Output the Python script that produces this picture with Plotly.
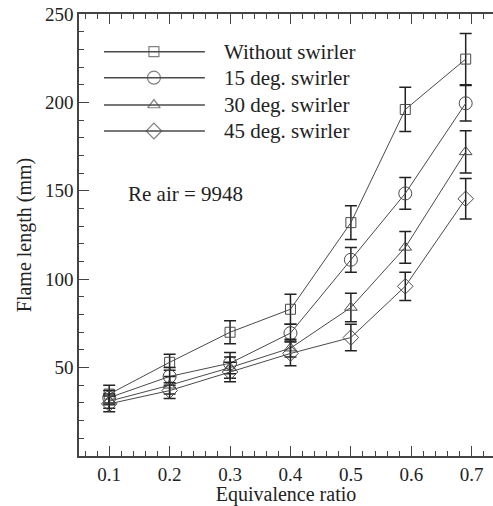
import plotly.graph_objects as go

# ---- data ----
equivalence_ratio = [0.1, 0.2, 0.3, 0.4, 0.5, 0.59, 0.69]
series_names = ["Without swirler", "15 deg. swirler", "30 deg. swirler", "45 deg. swirler"]
without_swirler = [35, 53, 70, 83, 132, 196, 224.5]
without_err = [5, 4.5, 6.5, 8.5, 9.5, 12.5, 14.5]
swirler_15 = [33, 45, 52.5, 69.5, 111, 148.5, 199.5]
swirler_15_err = [4, 5, 6, 5, 7, 9, 10]
swirler_30 = [31, 40, 50, 61, 84, 118, 172]
swirler_30_err = [4, 5, 6, 5, 8, 9, 12]
swirler_45 = [29.5, 37, 47.5, 58, 67, 96, 145.5]
swirler_45_err = [4.5, 4.5, 5.5, 7, 7.5, 8, 11.5]
x_ticks = [0.1, 0.2, 0.3, 0.4, 0.5, 0.6, 0.7]
y_ticks = [50, 100, 150, 200, 250]
annotation_text = "Re air = 9948"

values = [without_swirler, swirler_15, swirler_30, swirler_45]
errors = [without_err, swirler_15_err, swirler_30_err, swirler_45_err]
symbols = ["square-open", "circle-open", "triangle-up-open", "diamond-open"]
sizes = [10, 13, 11, 12]

FONT = "Liberation Serif"
LINE = "#4a4a4a"
fig = go.Figure()

for name, ys, es, sym, sz in zip(series_names, values, errors, symbols, sizes):
    fig.add_trace(go.Scatter(
        x=equivalence_ratio, y=ys, mode="lines+markers", name=name,
        line=dict(color=LINE, width=1),
        marker=dict(symbol=sym, size=sz, color=LINE, line=dict(color=LINE, width=1)),
        error_y=dict(type="data", array=es, visible=True, color="#222222",
                     thickness=1.5, width=6),
        showlegend=False,
    ))

# manual legend (long sample lines) on an overlay axis spanning the plot area
leg_y = [0.9147, 0.8559, 0.7941, 0.7353]
for name, sym, sz, ly in zip(series_names, symbols, sizes, leg_y):
    fig.add_trace(go.Scatter(
        x=[0.0604, 0.181, 0.304], y=[ly, ly, ly], mode="lines+markers",
        xaxis="x2", yaxis="y2",
        line=dict(color=LINE, width=1.5),
        marker=dict(symbol=sym, size=[0, sz, 0], color=LINE,
                    line=dict(color=LINE, width=1.2)),
        showlegend=False, hoverinfo="skip",
    ))
    fig.add_annotation(x=0.345, y=ly, xref="x2", yref="y2", text=name,
                       showarrow=False, xanchor="left", yanchor="middle",
                       font=dict(family=FONT, size=21, color="#222"))

fig.add_annotation(x=0.1135, y=0.593, xref="x2", yref="y2", text=annotation_text,
                   showarrow=False, xanchor="left", yanchor="middle",
                   font=dict(family=FONT, size=21, color="#222"))

axis_common = dict(
    showline=True, linecolor="#444", linewidth=1.5, ticks="inside",
    ticklen=10, tickwidth=1.2, tickcolor="#444",
    showgrid=False, zeroline=False,
    tickfont=dict(family=FONT, size=19, color="#222"),
)

fig.update_layout(
    width=493, height=506,
    margin=dict(l=79, r=0, t=14, b=50),
    paper_bgcolor="white", plot_bgcolor="white",
    xaxis=dict(range=[0.05, 0.7352], tickvals=x_ticks, ticktext=["0.1", "0.2", "0.3", "0.4", "0.5", "0.6", "0.7"],
               mirror="ticks",
               minor=dict(dtick=0.02, tick0=0, ticks="inside", ticklen=5, tickcolor="#444", tickwidth=1),
               title=dict(text="Equivalence ratio", font=dict(family=FONT, size=20, color="#222"), standoff=6),
               **axis_common),
    yaxis=dict(range=[0, 250], tickvals=y_ticks, mirror=False,
               minor=dict(dtick=10, tick0=0, ticks="inside", ticklen=5, tickcolor="#444", tickwidth=1),
               title=dict(text="Flame length (mm)", font=dict(family=FONT, size=20, color="#222"), standoff=8),
               **axis_common),
    xaxis2=dict(overlaying="x", range=[0, 1], visible=False, domain=[0, 1]),
    yaxis2=dict(overlaying="y", range=[0, 1], visible=False, domain=[0, 1]),
    yaxis3=dict(overlaying="y", side="right", range=[0, 250], tickvals=y_ticks,
                showticklabels=False, ticks="inside", ticklen=3, tickwidth=1.2,
                tickcolor="#444", showline=False, showgrid=False, zeroline=False),
    showlegend=False,
)

fig.write_html("out.html")
